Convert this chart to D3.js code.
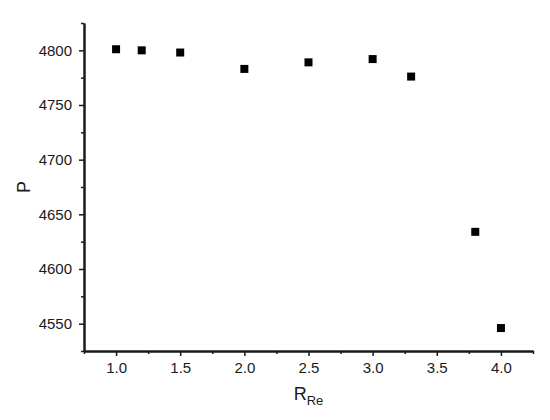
<!DOCTYPE html>
<html><head><meta charset="utf-8">
<script src="https://cdn.jsdelivr.net/npm/d3@7"></script>
<style>body{margin:0;background:#fff}svg{display:block}text{font-family:"Liberation Sans",Arial,sans-serif;fill:#1a1a1a}</style>
</head><body>
<svg id="c" width="550" height="420"></svg>
<script>
const xValues = [1.0, 1.2, 1.5, 2.0, 2.5, 3.0, 3.3, 3.8, 4.0];
const pValues = [4801, 4800, 4798, 4783, 4789, 4792, 4776, 4634, 4546];
const xTicks = [1.0, 1.5, 2.0, 2.5, 3.0, 3.5, 4.0];
const yTicks = [4550, 4600, 4650, 4700, 4750, 4800];
const xMinor = [0.75, 1.25, 1.75, 2.25, 2.75, 3.25, 3.75, 4.25];
const yMinor = [4525, 4575, 4625, 4675, 4725, 4775, 4825];

const svg = d3.select("#c");
const L = 84, R = 533, T = 23, B = 351;
const x = d3.scaleLinear().domain([0.75, 4.25]).range([L, R]);
const y = d3.scaleLinear().domain([4525, 4825]).range([B, T]);

const gx = svg.append("g").attr("transform", `translate(0,${B})`)
  .call(d3.axisBottom(x).tickValues(xTicks).tickFormat(d3.format(".1f")).tickSize(5).tickPadding(6).tickSizeOuter(0));
const gxm = svg.append("g").attr("transform", `translate(0,${B})`)
  .call(d3.axisBottom(x).tickValues(xMinor).tickFormat("").tickSize(3).tickSizeOuter(0));
const gy = svg.append("g").attr("transform", `translate(${L},0)`)
  .call(d3.axisLeft(y).tickValues(yTicks).tickFormat(d3.format("d")).tickSize(5).tickPadding(7).tickSizeOuter(0));
const gym = svg.append("g").attr("transform", `translate(${L},0)`)
  .call(d3.axisLeft(y).tickValues(yMinor).tickFormat("").tickSize(3).tickSizeOuter(0));

[gx, gxm, gy, gym].forEach(g => {
  g.select(".domain").attr("stroke", "#1a1a1a").attr("stroke-width", 2);
  g.selectAll(".tick line").attr("stroke", "#1a1a1a").attr("stroke-width", 1.5);
  g.selectAll(".tick text").attr("font-size", 15).attr("font-family", "Liberation Sans, Arial, sans-serif").attr("fill", "#1a1a1a");
});

svg.append("g").selectAll("rect").data(xValues).join("rect")
  .attr("x", (d) => x(d) - 4)
  .attr("y", (d, i) => y(pValues[i]) - 4)
  .attr("width", 8).attr("height", 8).attr("fill", "#000");

const xl = svg.append("text").attr("x", (L + R) / 2).attr("y", 400)
  .attr("text-anchor", "middle").attr("font-size", 18);
xl.append("tspan").text("R");
xl.append("tspan").attr("font-size", 13).attr("dy", 5).text("Re");

svg.append("text").attr("transform", `translate(30,${(T + B) / 2}) rotate(-90)`)
  .attr("text-anchor", "middle").attr("font-size", 18).text("P");
</script>
</body></html>
